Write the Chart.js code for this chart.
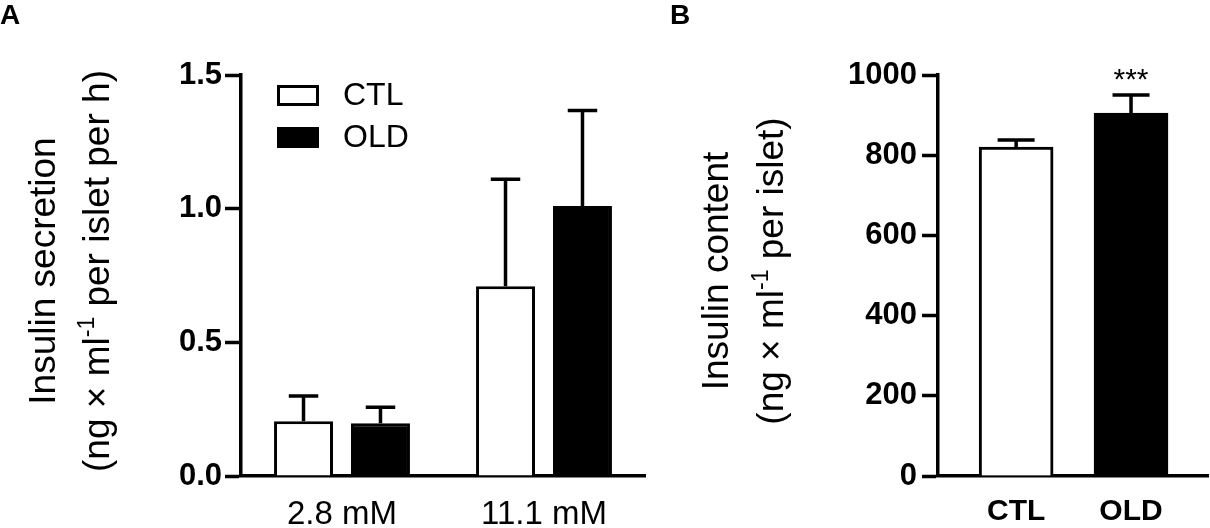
<!DOCTYPE html>
<html>
<head>
<meta charset="utf-8">
<script src="https://cdn.jsdelivr.net/npm/chart.js@4.4.1/dist/chart.umd.min.js"></script>
<style>
  body { margin: 0; background: #fff; width: 1210px; height: 528px; overflow: hidden; position: relative; }
  #chartA { position: absolute; left: 0; top: 0; }
  #chartB { position: absolute; left: 660px; top: 0; }
</style>
</head>
<body>
<canvas id="chartA" width="660" height="528"></canvas>
<canvas id="chartB" width="550" height="528"></canvas>
<script>
// A - insulin secretion per glucose level
const glucoseLabels = ["2.8 mM", "11.1 mM"];
const ctlSecretion = [0.205, 0.71];
const ctlSecretionSem = [0.094, 0.40];
const oldSecretion = [0.197, 1.01];
const oldSecretionSem = [0.06, 0.357];
const secretionTicks = [0, 0.5, 1.0, 1.5];

// B - insulin content
const groupLabels = ["CTL", "OLD"];
const contentMean = [820, 905];
const contentSem = [18, 45];
const contentStars = ["", "***"];
const contentTicks = [0, 200, 400, 600, 800, 1000];

const FONT = "'Liberation Sans', Arial, Helvetica, sans-serif";
Chart.defaults.font.family = FONT;
Chart.defaults.color = "#000";
Chart.defaults.animation = false;

// rotated y title, one line, with optional superscript parts
function drawTitleLine(ctx, parts, x, cy, size) {
  ctx.save();
  ctx.translate(x, cy);
  ctx.rotate(-Math.PI / 2);
  ctx.fillStyle = "#000";
  ctx.textBaseline = "alphabetic";
  ctx.textAlign = "left";
  let total = 0;
  const widths = parts.map(p => {
    ctx.font = (p.sup ? Math.round(size * 0.62) : size) + "px " + FONT;
    const w = ctx.measureText(p.t).width;
    total += w;
    return w;
  });
  let pos = -total / 2;
  parts.forEach((p, i) => {
    ctx.font = (p.sup ? Math.round(size * 0.62) : size) + "px " + FONT;
    ctx.fillText(p.t, pos, p.sup ? -size * 0.4 : 0);
    pos += widths[i];
  });
  ctx.restore();
}

function makeDecor(cfg) {
  return {
    id: "decor",
    afterDatasetsDraw(chart) {
      const ctx = chart.ctx;
      const yScale = chart.scales.y;
      // error bars (upper only) + stars
      chart.data.datasets.forEach((ds, i) => {
        const meta = chart.getDatasetMeta(i);
        meta.data.forEach((bar, j) => {
          const mean = meta.controller.getParsed(j).y;
          const top = yScale.getPixelForValue(mean + ds.sem[j]);
          const cap = bar.width * 0.5;
          ctx.save();
          ctx.strokeStyle = "#000";
          ctx.lineWidth = cfg.errWidth;
          ctx.beginPath();
          ctx.moveTo(bar.x, bar.y);
          ctx.lineTo(bar.x, top);
          ctx.moveTo(bar.x - cap / 2, top);
          ctx.lineTo(bar.x + cap / 2, top);
          ctx.stroke();
          if (ds.stars && ds.stars[j]) {
            ctx.fillStyle = "#000";
            ctx.font = "30px " + FONT;
            ctx.textAlign = "center";
            ctx.textBaseline = "alphabetic";
            ctx.fillText(ds.stars[j], bar.x, top - 6);
          }
          ctx.restore();
        });
      });
    },
    afterDraw(chart) {
      const ctx = chart.ctx;
      ctx.save();
      ctx.fillStyle = "#000";
      ctx.font = "bold 28px " + FONT;
      ctx.textBaseline = "alphabetic";
      ctx.fillText(cfg.panel, cfg.panelX, 24);
      ctx.restore();
      cfg.titles.forEach(t => drawTitleLine(ctx, t.parts, t.x, 271, 37));
      if (cfg.legend) {
        const lg = cfg.legend;
        chart.data.datasets.forEach((ds, i) => {
          const y = lg.y[i];
          ctx.save();
          if (ds.backgroundColor === "#000") {
            ctx.fillStyle = "#000";
            ctx.fillRect(lg.x, y, lg.w, lg.h);
          } else {
            ctx.strokeStyle = "#000";
            ctx.lineWidth = 3;
            ctx.strokeRect(lg.x + 1.5, y + 1.5, lg.w - 3, lg.h - 3);
          }
          ctx.fillStyle = "#000";
          ctx.font = "32px " + FONT;
          ctx.textBaseline = "middle";
          ctx.fillText(ds.label, lg.textX, y + lg.h / 2 + 1);
          ctx.restore();
        });
      }
    }
  };
}

const yGrid = { drawOnChartArea: false, tickLength: 16, tickWidth: 3.5, color: "#000" };
const axisBorder = { color: "#000", width: 3.5 };

new Chart(document.getElementById("chartA"), {
  type: "bar",
  data: {
    labels: glucoseLabels,
    datasets: [
      { label: "CTL", data: ctlSecretion, sem: ctlSecretionSem, backgroundColor: "#fff", borderColor: "#000", borderWidth: 3 },
      { label: "OLD", data: oldSecretion, sem: oldSecretionSem, backgroundColor: "#000", borderColor: "#000", borderWidth: 3 }
    ]
  },
  options: {
    responsive: false,
    events: [],
    layout: { padding: { left: 0, right: 15, top: 75, bottom: 0 } },
    datasets: { bar: { categoryPercentage: 0.762, barPercentage: 0.766 } },
    plugins: { legend: { display: false }, tooltip: { enabled: false } },
    scales: {
      x: {
        grid: { display: false, drawTicks: false },
        border: axisBorder,
        ticks: { font: { size: 33 }, padding: 19 },
        afterFit: a => { a.height = 52; }
      },
      y: {
        min: 0, max: 1.5,
        afterBuildTicks: a => { a.ticks = secretionTicks.map(v => ({ value: v })); },
        ticks: { font: { size: 31, weight: "bold" }, padding: 3, callback: v => v.toFixed(1) },
        grid: yGrid,
        border: axisBorder,
        afterFit: a => { a.width = 241; }
      }
    }
  },
  plugins: [makeDecor({
    panel: "A", panelX: 0, errWidth: 3.5,
    titles: [
      { x: 55, parts: [{ t: "Insulin secretion" }] },
      { x: 109, parts: [{ t: "(ng × ml" }, { t: "-1", sup: true }, { t: " per islet per h)" }] }
    ],
    legend: { x: 277, y: [85, 127], w: 42, h: 21, textX: 343 }
  })]
});

new Chart(document.getElementById("chartB"), {
  type: "bar",
  data: {
    datasets: [{
      label: "Insulin content",
      data: contentMean.map((v, i) => ({ x: i + 1, y: v })),
      sem: contentSem,
      stars: contentStars,
      backgroundColor: ["#fff", "#000"],
      borderColor: "#000",
      borderWidth: 3,
      barThickness: 74
    }]
  },
  options: {
    responsive: false,
    events: [],
    layout: { padding: { left: 0, right: 2, top: 75, bottom: 0 } },
    plugins: { legend: { display: false }, tooltip: { enabled: false } },
    scales: {
      x: {
        type: "linear", min: 0.32, max: 2.67, offset: false,
        grid: { display: false, drawTicks: false },
        border: axisBorder,
        afterBuildTicks: a => { a.ticks = groupLabels.map((_, i) => ({ value: i + 1 })); },
        ticks: { font: { size: 30, weight: "bold" }, padding: 18, callback: v => groupLabels[v - 1] },
        afterFit: a => { a.height = 52; }
      },
      y: {
        min: 0, max: 1000,
        afterBuildTicks: a => { a.ticks = contentTicks.map(v => ({ value: v })); },
        ticks: { font: { size: 31, weight: "bold" }, padding: 5, callback: v => String(v) },
        grid: yGrid,
        border: axisBorder,
        afterFit: a => { a.width = 278; }
      }
    }
  },
  plugins: [makeDecor({
    panel: "B", panelX: 10, errWidth: 3.5,
    titles: [
      { x: 68, parts: [{ t: "Insulin content" }] },
      { x: 123, parts: [{ t: "(ng × ml" }, { t: "-1", sup: true }, { t: " per islet)" }] }
    ]
  })]
});
</script>
</body>
</html>
